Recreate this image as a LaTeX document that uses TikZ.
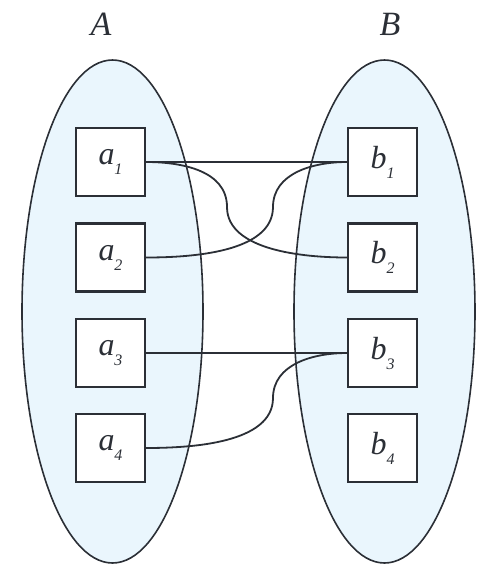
\documentclass[tikz,border=0pt]{standalone}
\usepackage{fontspec}
\setmainfont{Liberation Serif}
\definecolor{ink}{HTML}{2B2F36}
\definecolor{setfill}{HTML}{EAF6FD}
\tikzset{
  setell/.style={draw=ink, line width=1.6pt, fill=setfill},
  elem/.style={draw=ink, line width=2.2pt, fill=white, text=ink, minimum width=69pt, minimum height=68pt, inner sep=0pt, font=\fontsize{32}{33}\selectfont\itshape},
  setlabel/.style={font=\fontsize{34}{35}\selectfont\itshape, text=ink, inner sep=0pt},
  link/.style={draw=ink, line width=1.8pt}
}
\newcommand{\elt}[2]{#1\raisebox{-10pt}{\fontsize{16}{17}\selectfont\itshape #2}}
\begin{document}
\begin{tikzpicture}[x=1pt, y=-1pt]
\useasboundingbox (0,0) rectangle (493,574);
\draw[setell] (112.5,311.5) ellipse [x radius=90.5, y radius=251.5];
\draw[setell] (384.5,311.5) ellipse [x radius=90.5, y radius=251.5];
\node[setlabel] (lA) at (101,24) {A};
\node[setlabel] (lB) at (390,24) {B};
\node[elem] (a1) at (110.5,162) {\elt{a}{1}};
\node[elem] (a2) at (110.5,257.5) {\elt{a}{2}};
\node[elem] (a3) at (110.5,353) {\elt{a}{3}};
\node[elem] (a4) at (110.5,448) {\elt{a}{4}};
\node[elem] (b1) at (382.5,162) {\elt{b}{1}};
\node[elem] (b2) at (382.5,257.5) {\elt{b}{2}};
\node[elem] (b3) at (382.5,353) {\elt{b}{3}};
\node[elem] (b4) at (382.5,448) {\elt{b}{4}};
\coordinate (m1) at (227,207);
\coordinate (m2) at (273,207);
\coordinate (m3) at (273,398);
\draw[link] (a1.east) -- (b1.west);
\draw[link] (a3.east) -- (b3.west);
\draw[link] (a1.east) to[out=0,in=90] (m1) to[out=-90,in=180,looseness=0.85] (b2.west);
\draw[link] (b1.west) to[out=180,in=90] (m2) to[out=-90,in=0,looseness=0.85] (a2.east);
\draw[link] (b3.west) to[out=180,in=90] (m3) to[out=-90,in=0,looseness=0.85] (a4.east);
\end{tikzpicture}
\end{document}
